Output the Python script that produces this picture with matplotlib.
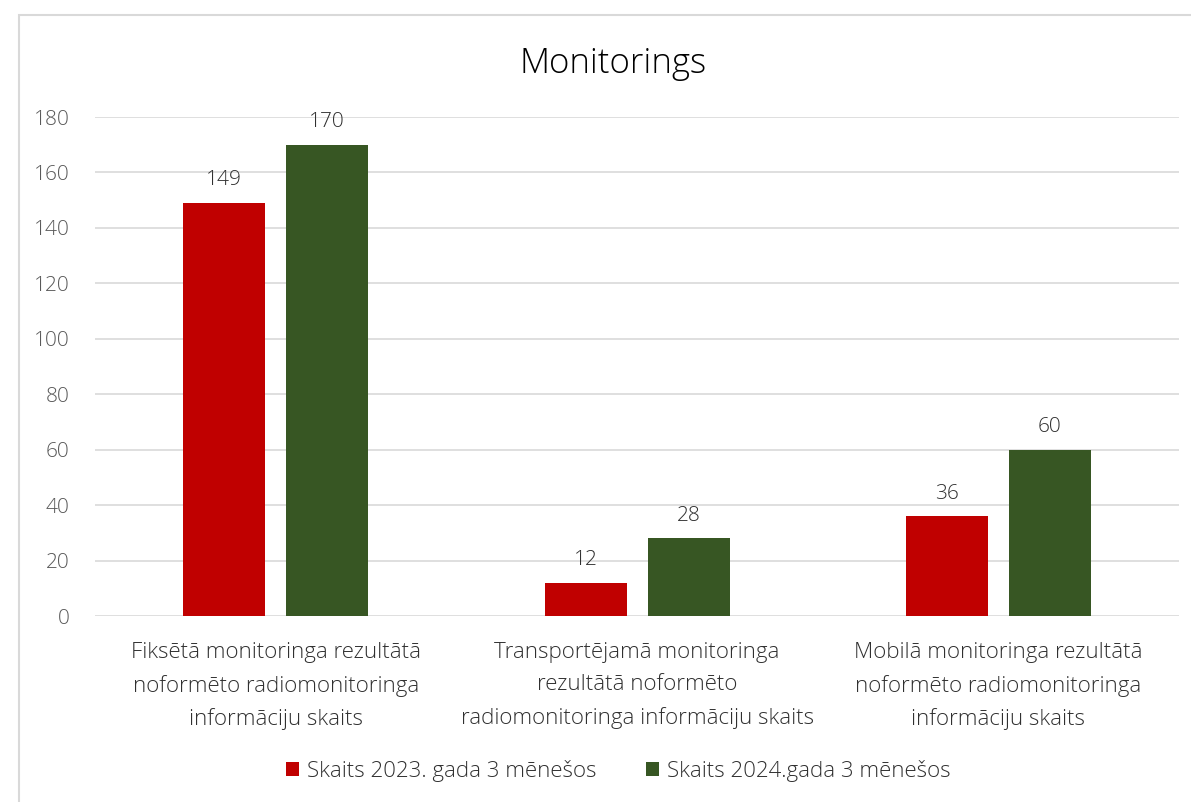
import numpy as np
import matplotlib
matplotlib.use("Agg")
import matplotlib.pyplot as plt
from matplotlib.patches import Rectangle

categories = [
    "Fiksētā monitoringa rezultātā\nnoformēto radiomonitoringa\ninformāciju skaits",
    "Transportējamā monitoringa\nrezultātā noformēto\nradiomonitoringa informāciju skaits",
    "Mobilā monitoringa rezultātā\nnoformēto radiomonitoringa\ninformāciju skaits",
]
series_names = ["Skaits 2023. gada 3 mēnešos", "Skaits 2024.gada 3 mēnešos"]
values_2023 = [149, 12, 36]
values_2024 = [170, 28, 60]
colors = ["#C00000", "#375623"]

plt.rcParams['font.family'] = ['Open Sans', 'DejaVu Sans']
plt.rcParams['font.weight'] = 'light'

fig = plt.figure(figsize=(11.91, 8.02), dpi=100)
ax = fig.add_axes([0.0798, 0.2319, 0.9102, 0.6222])

# rahmis ap diagrammu
fig.patches.append(Rectangle((19/1191, -0.01), 1.1, 1 - 15/802 + 0.01,
                             transform=fig.transFigure, fill=False,
                             edgecolor="#D9D9D9", linewidth=1.5))

x = np.arange(len(categories))
w = 0.227
off = 0.1425
b1 = ax.bar(x - off, values_2023, w, color=colors[0], label=series_names[0], zorder=3)
b2 = ax.bar(x + off, values_2024, w, color=colors[1], label=series_names[1], zorder=3)
for bars in (b1, b2):
    ax.bar_label(bars, padding=9, fontsize=15, color="#303030")

ax.set_xlim(-0.5, 2.5)
ax.set_ylim(0, 180)
ax.set_yticks(range(0, 181, 20))
ax.grid(axis="y", color="#D9D9D9", linewidth=1.2, zorder=0)
for s in ax.spines.values():
    s.set_visible(False)
ax.tick_params(axis="y", length=0, labelsize=15, labelcolor="#595959", pad=18.5)
ax.tick_params(axis="x", length=0, labelsize=16, labelcolor="#303030", pad=19)
ax.set_xticks(x)
ax.set_xticklabels(categories, linespacing=1.68)

fig.text(0.5147, 0.921, "Monitorings", ha="center", va="center", fontsize=25, color="#000000")

fig.legend(handles=[b1, b2], labels=series_names, loc="center", bbox_to_anchor=(0.519, 0.039),
           ncol=2, frameon=False, fontsize=16, handlelength=0.62, handleheight=0.62,
           handletextpad=0.35, columnspacing=2.2, labelcolor="#303030")

fig.savefig("out.png", dpi=100)
